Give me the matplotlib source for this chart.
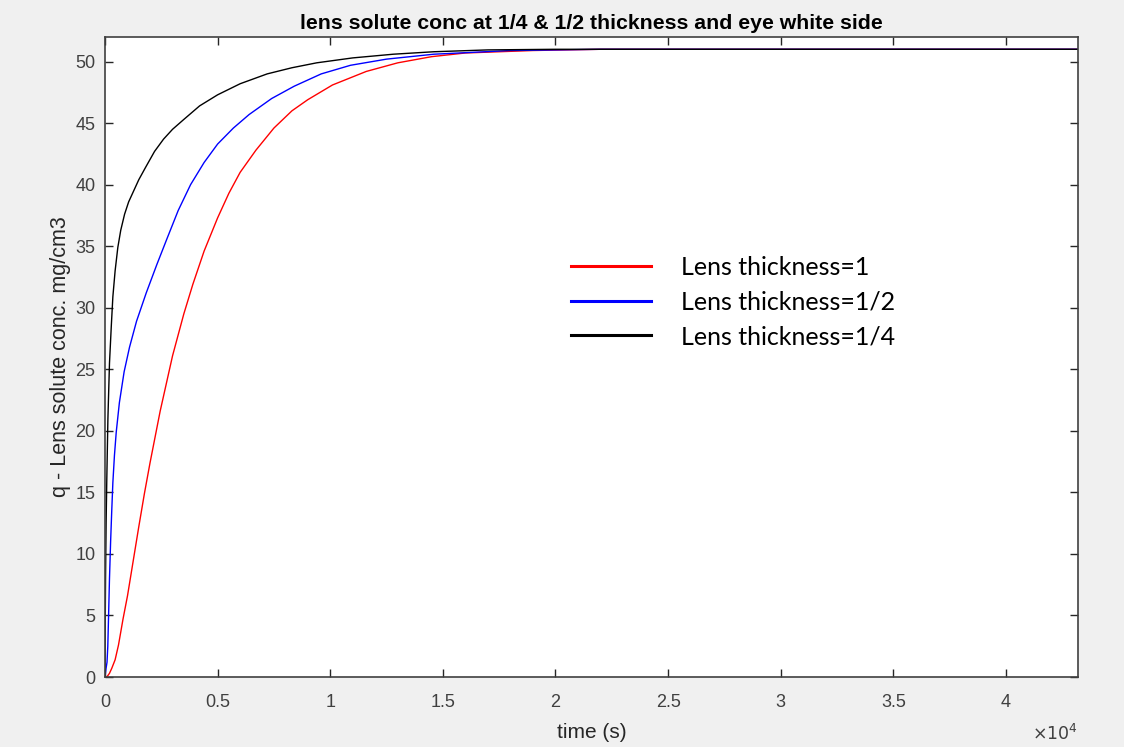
import numpy as np
import matplotlib
matplotlib.use("Agg")
import matplotlib.pyplot as plt
from matplotlib.lines import Line2D
from matplotlib.ticker import FuncFormatter

# ── data (time in s, conc in mg/cm3) ────────────────────────────────────
t_full = [0, 100, 200, 300, 450, 600, 800, 1000, 1250, 1500, 1750, 2000,
          2450, 3000, 3500, 3900, 4400, 5000, 5500, 6000, 6700, 7500, 8300,
          9000, 10100, 11600, 13000, 14500, 16000, 19000, 22000, 43200]
q_full = [0, 0.05, 0.3, 0.7, 1.4, 2.6, 4.7, 6.6, 9.4, 12.2, 14.9, 17.4,
          21.6, 26.1, 29.5, 31.9, 34.6, 37.3, 39.3, 41.0, 42.8, 44.6, 46.0,
          46.9, 48.1, 49.2, 49.9, 50.4, 50.7, 50.9, 51.0, 51.0]

t_half = [0, 40, 90, 125, 160, 200, 250, 300, 350, 420, 500, 640, 850,
          1090, 1400, 1830, 2300, 2750, 3250, 3800, 4400, 5000, 5700, 6400,
          7400, 8400, 9600, 10900, 12500, 14600, 18000, 22000, 43200]
q_half = [0, 0.6, 1.2, 2.5, 5.0, 8.0, 11.0, 13.5, 15.8, 18.0, 19.9, 22.3,
          24.8, 26.8, 28.9, 31.2, 33.5, 35.6, 37.9, 40.0, 41.8, 43.3, 44.6,
          45.7, 47.0, 48.0, 49.0, 49.7, 50.2, 50.6, 50.9, 51.0, 51.0]

t_quarter = [0, 10, 25, 50, 80, 130, 200, 280, 350, 450, 570, 700, 870,
             1050, 1250, 1500, 1800, 2200, 2600, 3000, 3500, 4200, 5000,
             6000, 7200, 8300, 9400, 11000, 12800, 14600, 17000, 20000, 43200]
q_quarter = [0, 4.0, 8.0, 12.5, 16.0, 21.0, 25.5, 28.5, 30.9, 33.0, 34.9,
             36.3, 37.6, 38.6, 39.4, 40.4, 41.4, 42.7, 43.7, 44.5, 45.3,
             46.4, 47.3, 48.2, 49.0, 49.5, 49.9, 50.3, 50.6, 50.8, 50.95,
             51.0, 51.0]

labels = ["Lens thickness=1", "Lens thickness=1/2", "Lens thickness=1/4"]
colors = ["#ff0000", "#0000ff", "#000000"]

x_ticks = [0, 5000, 10000, 15000, 20000, 25000, 30000, 35000, 40000]
y_ticks = [0, 5, 10, 15, 20, 25, 30, 35, 40, 45, 50]

plt.rcParams["font.family"] = ["Liberation Sans", "DejaVu Sans"]
axis_col = "#262626"

fig = plt.figure(figsize=(11.24, 7.47), dpi=100, facecolor="#f0f0f0")
ax = fig.add_axes([0.0934, 0.0937, 0.8657, 0.8568])
ax.set_facecolor("white")

for t, q, c in zip([t_full, t_half, t_quarter],
                   [q_full, q_half, q_quarter], colors):
    ax.plot(t, q, color=c, lw=1.0, solid_joinstyle="round")

ax.set_xlim(0, 43200)
ax.set_ylim(0, 52)
ax.set_xticks(x_ticks)
ax.set_yticks(y_ticks)
ax.xaxis.set_major_formatter(FuncFormatter(lambda v, p: f"{v/1e4:g}"))
ax.tick_params(direction="in", top=True, right=True, length=6,
               width=1.0, colors=axis_col, labelsize=13)
ax.tick_params(axis="x", pad=12)
ax.tick_params(axis="y", pad=7)
ax.tick_params(labelcolor="#404040")
for sp in ax.spines.values():
    sp.set_color("#404040")
    sp.set_linewidth(1.2)

ax.set_title("lens solute conc at 1/4 & 1/2 thickness and eye white side",
             fontsize=15.3, fontweight="bold", color="black", pad=6)
ax.set_xlabel("time (s)", fontsize=15, color="#262626", labelpad=9)
ax.set_ylabel("q - Lens solute conc. mg/cm3", fontsize=15.5,
              color="#262626", labelpad=3)
ax.text(1.0, -0.087, r"$\times 10^{4}$", transform=ax.transAxes,
        ha="right", va="center", fontsize=12.5, color="#404040")

handles = [Line2D([], [], color=c, lw=2.2) for c in colors]
leg = ax.legend(handles, labels, loc="center left",
                bbox_to_anchor=(0.466, 0.586), frameon=False, borderpad=0,
                prop={"family": ["Lato", "DejaVu Sans"], "size": 18},
                handlelength=3.2, handletextpad=1.2, labelspacing=0.47)

fig.savefig("out.png", dpi=100, facecolor=fig.get_facecolor())
